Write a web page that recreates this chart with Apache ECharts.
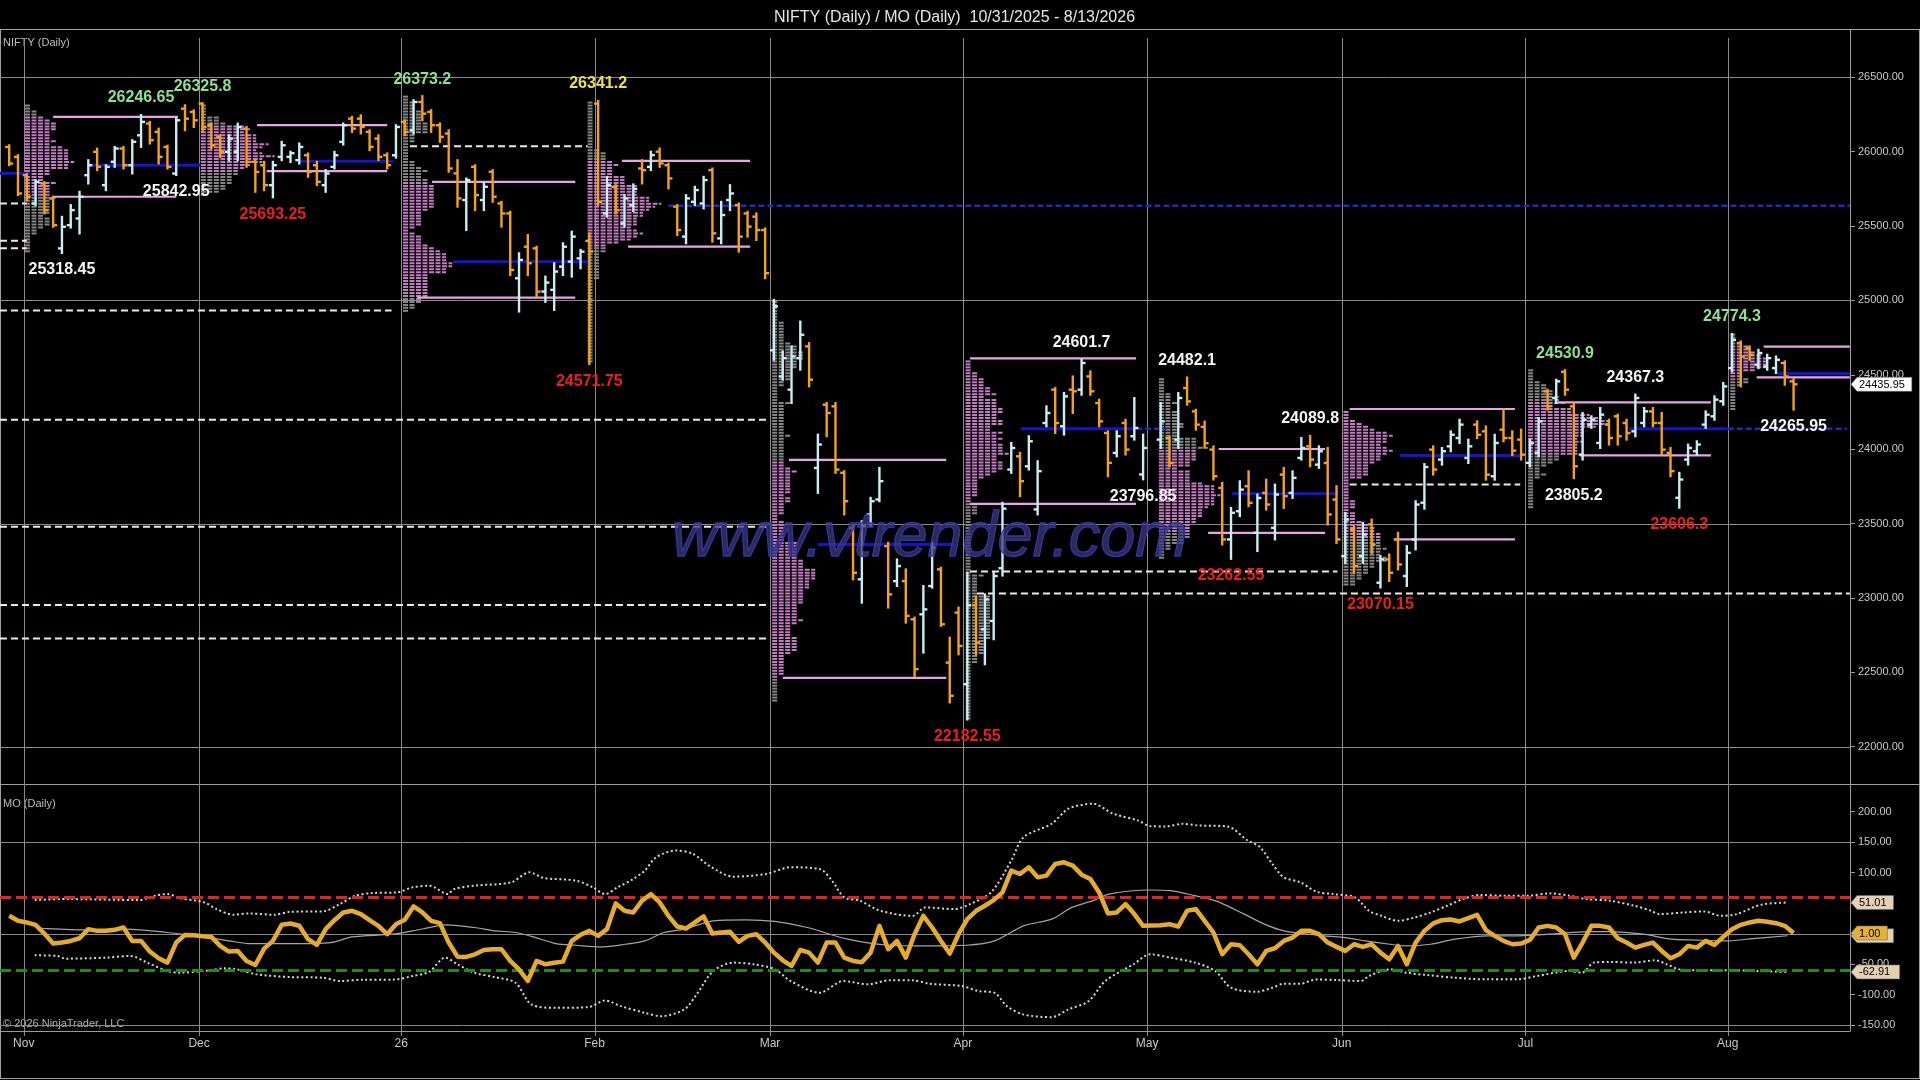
<!DOCTYPE html>
<html>
<head>
<meta charset="utf-8">
<title>NIFTY (Daily) / MO (Daily)</title>
<script src="https://cdn.jsdelivr.net/npm/echarts@6.0.0/dist/echarts.min.js"></script>
<style>
html,body{margin:0;padding:0;background:#000;overflow:hidden;}
#chart{width:1920px;height:1080px;}
</style>
</head>
<body>
<div id="chart"></div>
<script>
// ================= DATA =================
const titleText = 'NIFTY (Daily) / MO (Daily)  10/31/2025 - 8/13/2026';
const monthLabels = ['Nov', 'Dec', '26', 'Feb', 'Mar', 'Apr', 'May', 'Jun', 'Jul', 'Aug'];
const monthGridK = [1.65, 21.6, 44.6, 66.6, 86.55, 108.5, 129.45, 151.6, 172.5, 195.5];
// first bar slot of Oct, Nov, Dec, Jan, Feb, Mar, Apr, May, Jun, Jul, Aug
const monthStartK = [0, 2, 22, 45, 66, 87, 109, 130, 152, 173, 196];

const priceTicks = [22000, 22500, 23000, 23500, 24000, 24500, 25000, 25500, 26000, 26500];
const priceGridLevels = [22000, 23500, 25000, 26500];
const moTicks = [-150, -100, -50, 0, 50, 100, 150, 200];
const moGridLevels = [-150, 0, 150];
const moUpperLevel = 60;
const moLowerLevel = -60;

// daily bars [open, high, low, close]
const barsOct = [[26032,26043,25909,25920],[25965,25977,25708,25719]];
const barsNov = [
[25842,25850,25674,25697],[25652,25808,25641,25797],[25786,25795,25585,25607],[25685,25697,25495,25506],
[25350,25562,25318.45,25495],[25506,25641,25490,25607],[25551,25730,25450,25697],[25842,25943,25786,25909],
[25999,26021,25876,25898],[25775,25909,25741,25898],[25932,26032,25898,26021],[26021,26032,25887,25909],
[25909,26077,25853,26066],[26110,26246.65,26032,26200],[26189,26200,26055,26077],[26133,26155,25920,25965],
[26032,26040,25887,25898],[25853,26222,25842.95,26211],[26289,26312,26144,26222],[26267,26278,26166,26211]];
const barsDec = [
[26323,26325.8,26133,26166],[26178,26190,26021,26043],[26099,26110,25965,25999],[25999,26110,25943,26088],
[25999,26189,25943,26166],[26155,26166,25898,25932],[25932,25943,25730,25864],[25909,25932,25741,25775],
[25775,25932,25693.25,25909],[25965,26066,25943,26043],[25965,26000,25930,25990],[25943,26055,25920,26032],
[25976,25988,25831,25864],[25909,25932,25775,25797],[25775,25876,25730,25853],[25898,25999,25887,25976],
[26066,26189,26048,26178],[26222,26234,26133,26155],[26222,26245,26122,26166],[26133,26144,26010,26032],
[26088,26110,25943,25965],[25976,25988,25887,25909],[25976,26178,25960,26166]];
const barsJan = [
[26200,26211,26111,26133],[26144,26346,26122,26334],[26334,26373.2,26211,26256],[26267,26279,26133,26178],
[26178,26190,26066,26100],[26122,26144,25865,25887],[25854,25943,25630,25686],[25675,25820,25473,25809],
[25898,25909,25607,25708],[25675,25786,25607,25764],[25865,25876,25663,25697],[25652,25663,25496,25585],
[25585,25596,25171,25205],[25149,25317,24925,25272],[25361,25440,25171,25250],[25350,25361,25026,25059],
[25060,25160,24990,25120],[25071,25250,24936,25194],[25227,25384,25171,25361],[25261,25462,25160,25429],
[25283,25340,25216,25328]];
const barsFeb = [
[25400,25451,24571.75,25330],[26323,26341.2,25641,25663],[25585,25831,25563,25775],[25764,25775,25585,25607],
[25518,25708,25496,25686],[25640,25780,25600,25750],[25887,25943,25786,25876],[25898,26000,25876,25977],
[26000,26021,25898,25921],[25909,25920,25753,25820],[25630,25641,25440,25473],[25429,25708,25384,25686],
[25663,25764,25640,25742],[25652,25831,25619,25809],[25876,25887,25395,25451],[25417,25663,25384,25574],
[25675,25775,25607,25719],[25641,25652,25328,25429],[25585,25596,25429,25496],[25563,25585,25406,25473],
[25473,25484,25149,25183]];
const barsMar = [
[24665,25004,24601,24960],[24489,24657,24467,24612],[24400,24691,24310,24623],[24612,24858,24534,24769],
[24691,24713,24422,24467],[23874,24098,23706,24031],[24299,24310,24087,24243],[24288,24310,23841,23863],
[23841,23852,23561,23650],[23471,23483,23125,23169],[23125,23516,22968,23483],[23561,23673,23483,23650],
[23662,23874,23650,23785],[23348,23371,22935,23024],[23113,23259,23080,23214],[23113,23192,22834,22879],
[22856,22868,22476,22521],[22890,23080,22632,22923],[23080,23371,23069,23337],[23192,23203,22812,22823],
[22565,22733,22297,22342],[22901,22935,22621,22677]];
const barsApr = [
[22420,23169,22182.55,22950],[22950,23010,22620,22700],[22789,23024,22554,22990],[22845,23169,22722,23147],
[23200,23640,23150,23600],[23863,24042,23841,24008],[23952,23975,23684,23785],[23885,24087,23863,24053],
[23595,23919,23561,23852],[24176,24288,24154,24243],[24400,24411,24109,24176],[24154,24378,24098,24355],
[24400,24489,24243,24389],[24400,24601.7,24366,24579],[24489,24523,24366,24389],[24310,24333,24154,24187],
[24109,24120,23818,23908],[23975,24120,23952,24087],[24176,24198,23964,23997],[24087,24344,24064,24143],
[23830,24098,23796.85,24008]];
const barsMay = [
null,
[24064,24310,24008,24187],[24075,24085,23885,23907],[24064,24377,24008,24344],[24411,24482.1,24299,24321],
[24254,24265,24131,24165],[24150,24185,24010,24040],[23997,24019,23796,23818],[23740,23773,23359,23393],
[23393,23605,23262.55,23572],[23583,23784,23550,23728],[23751,23851,23617,23639],[23438,23695,23315,23672],
[23706,23795,23594,23628],[23471,23762,23393,23695],[23829,23874,23605,23684],[23706,23851,23672,23807],
[23941,24075,23930,24008],[24019,24089.8,23885,23930],[23896,24019,23874,23986],[23907,24008,23494,23561],
[23661,23751,23370,23393]];
const barsJun = [
[23281,23572,23236,23527],[23460,23482,23169,23214],[23281,23505,23236,23426],[23494,23527,23303,23359],
[23102,23281,23070.15,23259],[23259,23292,23113,23169],[23393,23438,23191,23225],[23147,23348,23080,23303],
[23393,23650,23326,23628],[23640,23900,23600,23880],[23997,24019,23829,23863],[23930,24008,23896,23986],
[24019,24120,23986,24097],[24075,24198,24042,24165],[23941,24064,23907,24019],[24165,24187,24075,24097],
[24120,24153,23795,23829],[23818,24097,23795,24042],[24131,24265,24053,24075],[24075,24120,23960,23990],
[24064,24131,23930,23963]];
const barsJul = [
[23908,24064,23885,24042],[23975,24210,23952,24187],[24389,24400,24266,24288],[24344,24467,24310,24456],
[24520,24530.9,24366,24400],[24288,24310,23805.2,23885],[23964,24243,23930,24198],[24165,24221,24143,24198],
[24042,24277,24008,24232],[24165,24198,24031,24075],[24221,24232,24031,24087],[24176,24198,24064,24109],
[24120,24367.3,24087,24344],[24176,24277,24154,24254],[24254,24277,24154,24176],[24176,24243,23964,23997],
[23975,24008,23818,23852],[23673,23841,23606.3,23796],[23930,24031,23897,24008],[23986,24053,23964,24031],
[24165,24254,24143,24232],[24221,24355,24198,24333],[24322,24445,24299,24422]];
const barsAug = [
[24545,24774.3,24523,24735],[24713,24724,24422,24623],[24679,24691,24601,24635],[24568,24668,24545,24646],
[24556,24635,24534,24612],[24545,24623,24512,24601],[24579,24590,24433,24489],[24456,24470,24265.95,24435.95]];

// MO oscillator, one value per bar slot
const moOct = [29.2, 21];
const moNov = [18.3,14.4,0,-16.4,-14.7,-12,-7.6,7.3,4.5,4.5,6.2,10,-12,-12,-29.5,-40.5,-47.6,-14.7,-2.1,-2.6];
const moDec = [-4.3,-5.4,-20.2,-29.5,-28.4,-44.9,-51.5,-24.6,-12,14.4,16.6,12.8,-9.2,-18.5,7.3,22,34.7,37.4,32,22,12.8,-1,15.5];
const moJan = [22.6,44.6,34.7,21,17.1,-14.7,-37.8,-38.3,-34,-26.8,-25.7,-25.7,-44.9,-58.6,-77.8,-44.9,-50.4,-47.7,-46,-12,-2];
const moFeb = [4.5,-3.7,7.3,49.5,37.4,34.7,54,64.9,51.2,29.2,11.6,8.3,18.3,28.1,0,1.8,2.9,-13.6,-3.7,-1,-14.7];
const moMar = [-31.2,-43.8,-53.1,-26.8,-31.2,-47.6,-14.7,-14.7,-39.4,-44.9,-47.1,-31.2,12.7,-25.7,-12,-39.4,-1,29.2,10,-12,-32.8,-1];
const moApr = [23.7,37.4,45.7,55,67.6,103.3,97.8,108.8,92.3,95.1,114.3,117,111.6,96.7,89.6,67.6,33,34.7,48.4,32,12.7];
const moMay = [null,13.8,15.5,11.6,37.4,40.2,21,1.8,-33.9,-17.5,-19.1,-33.9,-50.4,-28.4,-24,-12,-6.5,4.5,4.5,-1,-14.7,-21.8];
const moJun = [-28.4,-17.5,-21.8,-17.5,-31.2,-42.2,-20.2,-50.4,-14.7,4.5,16.6,22,23.2,19.9,25.4,30.9,5.6,-3.7,-12,-17.5,-16.4];
const moJul = [-10.3,10,12.7,10,-1,-39.4,-14.7,12.7,12.7,10,-7.6,-14.7,-23,-18.5,-14.7,-28.4,-40.5,-33.9,-20.2,-23,-12,-18.5,-5.4];
const moAug = [7.3,14.4,18.3,21,19.4,17.1,12.7,1.0];

// MO average and bands, read as [bar slot, value]
const moAvgPts = [[3,10],[4.1,8.4],[8.7,6.2],[13.4,7.3],[18,1.8],[22.7,-6.5],[25,-12],[27.3,-16.4],[32,-16.4],[36.6,-14.7],[39,-5.4],[43.6,-1],[45.9,4.5],[48.2,11],[49.6,14.4],[52.9,10],[55.2,4.5],[57.6,1.8],[59.9,-6.5],[62.2,-16.4],[64.5,-19.1],[67.3,-21.8],[70.1,-17.5],[72.3,-12],[74.5,1.8],[76.8,7.3],[80.1,21],[83.8,22.6],[87.1,19.9],[90.8,10],[95.4,-9.2],[100.1,-19.1],[104.7,-20.2],[108.9,-19.1],[112.1,-12],[115.4,12.7],[118.6,23.7],[120.9,43],[123.3,54],[125.1,64.9],[129.8,71.5],[132.1,70.4],[134.9,62.2],[137.2,54],[140.5,32],[142.8,15.5],[145,4.5],[149.6,-3.7],[152,-6.5],[154.3,-12],[157.1,-17.5],[158.9,-20.2],[161.7,-17.5],[164.5,-9.2],[168.2,-3.7],[171,-3.7],[175.2,-1],[179.8,3.4],[182.1,3.4],[185.9,-1],[189.1,-9.2],[191.4,-10.3],[195.6,-12],[198.4,-8.1],[202.3,-3.5]];
const moUpperPts = [[2.9,55],[6.4,56.7],[14.8,55],[16.6,62.2],[18,64.9],[19.4,58.3],[22.2,51.2],[23.6,40.2],[25.5,30.9],[27.3,33.1],[30.1,30.9],[32,35.8],[35.7,36.4],[37.6,48.4],[39.4,62.2],[41.3,66.5],[44.1,67.6],[45.9,75.9],[47.8,78.6],[49.9,64.9],[50.6,73.1],[52.9,78.6],[57.1,84.1],[59.2,100.6],[60.8,91.3],[64.5,86.9],[66.4,75.9],[67.8,64.9],[69.2,75.9],[71,89.6],[72.3,103.3],[73.6,125.3],[75.9,136.3],[77.8,130.8],[79.6,111.6],[82.4,93.4],[86.1,97.8],[88.9,108.8],[92.2,106.1],[93.6,86.9],[95,59.4],[96.8,53.9],[99.1,37.4],[102.8,29.2],[104.2,42.9],[107.5,40.2],[109.3,48.4],[111.7,67.6],[114,119.8],[115.4,158.2],[118.6,180.2],[120.5,204.9],[123.3,213.1],[125.6,196.7],[128.4,185.7],[129.8,176.4],[131.6,175.8],[133.5,180.2],[135.3,177.4],[138.6,175.8],[140.9,152.7],[142.3,141.8],[143.7,114.3],[145,92.4],[146.9,84.1],[148.7,68.8],[150.6,64.9],[153.1,59.4],[154.7,37.4],[156.1,29.2],[158,21],[159.9,26.5],[161.7,34.7],[163.6,45.7],[165.4,56.7],[167.3,63.3],[170.1,62.2],[172.9,62.2],[175.2,66],[177.5,62.2],[179.4,56.7],[182.1,53.9],[184.9,45.7],[186.8,37.4],[187.7,31.9],[190.5,34.7],[192.8,36.4],[194.7,29.2],[196.5,31.9],[199.3,47.3],[202.3,51.01]];
const moLowerPts = [[2.9,-35.6],[5.5,-36.7],[6.4,-41.1],[11,-39.4],[13.8,-36.7],[15.7,-47.6],[18,-61.4],[19.4,-64.1],[22.7,-60.3],[24.5,-57],[25.9,-58.6],[28.2,-66.9],[32,-71.3],[35.7,-72.4],[37.6,-77.8],[40.3,-75.6],[43.6,-75.6],[45.9,-69.6],[47.8,-62.5],[49.6,-39.4],[51,-50.4],[52.9,-64.1],[55.2,-71.3],[57.6,-80.6],[59.4,-116.3],[62.2,-121.8],[65.9,-120.7],[67.8,-109.7],[69.6,-119],[72.3,-130],[74.1,-135.5],[76.8,-124.5],[78.2,-99.8],[80.1,-61.4],[82.4,-47.6],[84.7,-50.4],[87.1,-58.6],[88.9,-77.8],[92.2,-97.1],[94.9,-77.8],[97.7,-83.3],[100.1,-76.7],[102.8,-76.7],[104.7,-82.2],[108.4,-86.1],[110.3,-94.3],[112.1,-97.1],[113.5,-119],[115.4,-132.7],[118.6,-137.1],[120.5,-124.5],[122.8,-110.8],[124.7,-77.8],[127.9,-50.4],[129.8,-33.9],[132.1,-39.4],[134.9,-47.6],[137.2,-61.4],[139,-88.8],[141.9,-95.4],[143.7,-88.8],[145,-82.2],[146.9,-82.2],[148.7,-75.1],[151,-76.2],[153.8,-77.8],[154.7,-69.6],[157.1,-58.6],[158.9,-64.1],[161.3,-68],[164.5,-72.4],[168.2,-75.1],[171.5,-75.1],[173.8,-69.6],[177.5,-61.4],[178.9,-64.1],[180.3,-47.6],[182.1,-46.5],[184.9,-47.6],[187.2,-43.8],[188.6,-50.4],[190,-58.6],[192.8,-60.3],[196.1,-60.3],[198.8,-61.4],[202.3,-62.91]];

// monthly value-area highs / lows [fromSlot, price, toSlot]  (Nov..Aug)
const vaHigh = [[5.0,26234,19.2],[28.2,26178,43],[48.1,25797,64.4],[69.7,25938,84.3],[88.7,23928,106.6],[109.3,24610,128.2],[137.6,24001,149.7],[152.5,24270,171.3],[176.2,24314,193.6],[199.6,24690,209.4]];
const vaLow  = [[5.0,25697,19.0],[29.3,25869,43],[46.4,25019,64.4],[70.4,25361,84.3],[88.0,22462,106.6],[109.3,23632,128.2],[136.4,23437,149.7],[157.5,23393,171.3],[178.7,23958,193.6],[198.8,24482,209.4]];
// points of control
const pocSolid = [[-1.05,25854,2.4],[9.2,25909,21.7],[33.1,25936,43.7],[50.5,25260,65.9],[92,23359,107.5],[115.1,24138,128.2],[139.1,23701,151.2],[158.2,23958,171.9],[184.3,24138,195.5],[201.2,24509,209.4]];
const pocNaked = [[75,25636,209.4],[128.2,24138,131.7],[195.5,24138,209.1]];
// untested reference levels (white dashed)
const refLevels = [[-1.05,25652,2.0],[-1.05,25401,2.0],[-1.05,25350,2.0],[-1.05,24932,43.5],[45.6,26037,65.8],[-1.05,24198,86.4],[-1.05,23478,86.4],[-1.05,22952,86.4],[-1.05,22728,86.4],[109.3,23178,151.1],[110.1,23030,209.4],[152.5,23762,171.9]];
// annotated highs / lows: [slot, 'H' | 'L', colour index]
const priceNotes = [[15,'H',0],[22,'H',0],[19,'L',1],[6,'L',1],[30,'L',2],[47,'H',0],[67,'H',3],[66,'L',2],[122,'H',1],[134,'H',1],[129,'L',1],[139,'L',2],[109,'L',2],[148,'H',1],[156,'L',2],[177,'H',0],[185,'H',1],[178,'L',1],[190,'L',2],[196,'H',0],[203,'L',1]];

// ================= BUILD =================
const FONT = '"Liberation Sans", Arial, Helvetica, sans-serif';
const NOTE_COLORS = ['#8fe08f', '#f4f4f4', '#e82020', '#ece050'];
const UP = '#c6eef3', DOWN = '#f4a11c';
const barMonths = [barsOct, barsNov, barsDec, barsJan, barsFeb, barsMar, barsApr, barsMay, barsJun, barsJul, barsAug];
const moMonths = [moOct, moNov, moDec, moJan, moFeb, moMar, moApr, moMay, moJun, moJul, moAug];
const allBars = [];
const moData = [];
barMonths.forEach((arr, m) => arr.forEach((b, i) => { allBars[monthStartK[m] + i] = b; }));
moMonths.forEach((arr, m) => arr.forEach((v, i) => { if (v !== null) moData.push([monthStartK[m] + i, v]); }));
const barData = [];
allBars.forEach((b, k) => { if (b) barData.push([k, b[0], b[1], b[2], b[3]]); });
const lastK = allBars.length - 1;
const lastClose = allBars[lastK][3];

// market profile rows computed from the bars of each month
const STEP = 20, TPO_W = 0.7;
const profileRows = [];
for (let m = 1; m < monthStartK.length; m++) {
  const s = monthStartK[m];
  const e = (m + 1 < monthStartK.length) ? monthStartK[m + 1] : allBars.length;
  const bs = [];
  let firstK = -1;
  for (let k = s; k < e; k++) if (allBars[k]) { bs.push(allBars[k]); if (firstK < 0) firstK = k; }
  const lo = Math.floor(Math.min(...bs.map(b => b[2])) / STEP) * STEP;
  const hi = Math.max(...bs.map(b => b[1]));
  const vah = vaHigh[m - 1][1], val = vaLow[m - 1][1];
  for (let p = lo + STEP / 2; p <= hi; p += STEP) {
    const n = bs.filter(b => b[2] <= p && b[1] >= p).length;
    if (n) profileRows.push([firstK - 0.2, p, n * TPO_W, (p >= val && p <= vah) ? 1 : 0]);
  }
}

const noteData = priceNotes.map(([k, side, ci]) => [k, side === 'H' ? allBars[k][1] : allBars[k][2], side === 'H' ? -1 : 1, ci]);

const X_MIN = -1.047, X_MAX = 209.42;

function segSeries(name, data, style, z) {
  return {
    type: 'custom', name, xAxisIndex: 0, yAxisIndex: 0, z, silent: true,
    data,
    renderItem: (params, api) => {
      const a = api.coord([api.value(0), api.value(1)]);
      const b = api.coord([api.value(2), api.value(1)]);
      return { type: 'line', shape: { x1: a[0], y1: a[1], x2: b[0], y2: b[1] }, style: Object.assign({ fill: null }, style) };
    }
  };
}
function hGrid(xi, yi, levels) {
  return {
    type: 'custom', xAxisIndex: xi, yAxisIndex: yi, z: 0, silent: true,
    data: levels.map(v => [100, v]),
    renderItem: (params, api) => {
      const cs = params.coordSys;
      const y = Math.round(api.coord([100, api.value(1)])[1]) + 0.5;
      return { type: 'line', shape: { x1: cs.x, y1: y, x2: cs.x + cs.width, y2: y }, style: { stroke: '#8a8a8a', lineWidth: 1 } };
    }
  };
}
function vGrid(xi, yi, mid, topPad) {
  return {
    type: 'custom', xAxisIndex: xi, yAxisIndex: yi, z: 0, silent: true,
    data: monthGridK.map(k => [k, mid]),
    renderItem: (params, api) => {
      const cs = params.coordSys;
      const x = Math.round(api.coord([api.value(0), mid])[0]) + 0.5;
      return { type: 'line', shape: { x1: x, y1: cs.y + topPad, x2: x, y2: cs.y + cs.height + 5 }, style: { stroke: '#8a8a8a', lineWidth: 1 } };
    }
  };
}
function tagShape(x0, y, text, bg, fg) {
  const w = text.length * 6.1 + 6, h = 14;
  return {
    type: 'group', children: [
      { type: 'polygon', shape: { points: [[x0, y], [x0 + 6, y - h / 2], [x0 + 6 + w, y - h / 2], [x0 + 6 + w, y + h / 2], [x0 + 6, y + h / 2]] }, style: { fill: bg, stroke: '#6a6a6a', lineWidth: 0.6 } },
      { type: 'text', x: x0 + 8, y: y + 0.5, style: { text, fill: fg, font: '11px ' + FONT, align: 'left', verticalAlign: 'middle' } }
    ]
  };
}

const lowerTags = [
  [lastK, moAvgPts[moAvgPts.length - 1][1], 0],
  [lastK, moUpperPts[moUpperPts.length - 1][1], 0],
  [lastK, moLowerPts[moLowerPts.length - 1][1], 0],
  [lastK, moData[moData.length - 1][1], 1]
];

const option = {
  backgroundColor: '#000000',
  animation: false,
  title: {
    text: titleText, left: 769, top: 5,
    textStyle: { color: '#e6e6e6', fontSize: 16, fontWeight: 'normal', fontFamily: FONT }
  },
  grid: [
    { left: 0, top: 30, width: 1850, height: 754, containLabel: false },
    { left: 0, top: 785, width: 1850, height: 246, containLabel: false }
  ],
  xAxis: [
    { type: 'value', gridIndex: 0, min: X_MIN, max: X_MAX, show: false,
      axisLine: { show: false, onZero: false }, axisTick: { show: false }, axisLabel: { show: false }, splitLine: { show: false } },
    { type: 'value', gridIndex: 1, min: X_MIN, max: X_MAX,
      axisLine: { show: true, onZero: false, lineStyle: { color: '#9a9a9a', width: 1 } },
      axisTick: { show: false },
      splitLine: { show: false },
      axisLabel: {
        show: true, customValues: monthGridK, color: '#c8c8c8', fontSize: 12, fontFamily: FONT, margin: 7,
        formatter: v => {
          let bi = 0, bd = 1e9;
          monthGridK.forEach((g, i) => { const d = Math.abs(g - v); if (d < bd) { bd = d; bi = i; } });
          return monthLabels[bi];
        }
      } }
  ],
  yAxis: [
    { type: 'value', gridIndex: 0, position: 'right', min: 21749, max: 26818,
      axisLine: { show: true, onZero: false, lineStyle: { color: '#9a9a9a', width: 1 } },
      axisTick: { show: true, length: 5, customValues: priceTicks, lineStyle: { color: '#9a9a9a' } },
      axisLabel: { show: true, customValues: priceTicks, color: '#c8c8c8', fontSize: 11, fontFamily: FONT, margin: 8,
        formatter: v => v.toFixed(2) },
      splitLine: { show: false }, minorTick: { show: false } },
    { type: 'value', gridIndex: 1, position: 'right', min: -159.8, max: 243.8,
      axisLine: { show: true, onZero: false, lineStyle: { color: '#9a9a9a', width: 1 } },
      axisTick: { show: true, length: 5, customValues: moTicks, lineStyle: { color: '#9a9a9a' } },
      axisLabel: { show: true, customValues: moTicks, color: '#c8c8c8', fontSize: 11, fontFamily: FONT, margin: 8,
        formatter: v => v.toFixed(2) },
      splitLine: { show: false }, minorTick: { show: false } }
  ],
  graphic: [
    { type: 'line', shape: { x1: 0, y1: 29.5, x2: 1920, y2: 29.5 }, style: { stroke: '#a8a8a8', lineWidth: 1 }, silent: true },
    { type: 'line', shape: { x1: 0, y1: 784.5, x2: 1920, y2: 784.5 }, style: { stroke: '#a0a0a0', lineWidth: 1 }, silent: true },
    { type: 'line', shape: { x1: 0, y1: 1078.5, x2: 1920, y2: 1078.5 }, style: { stroke: '#a0a0a0', lineWidth: 1 }, silent: true },
    { type: 'line', shape: { x1: 0.5, y1: 30, x2: 0.5, y2: 1078 }, style: { stroke: '#a0a0a0', lineWidth: 1 }, silent: true },
    { type: 'line', shape: { x1: 1919.5, y1: 30, x2: 1919.5, y2: 1078 }, style: { stroke: '#a0a0a0', lineWidth: 1 }, silent: true },
    { type: 'text', x: 3, y: 43, style: { text: 'NIFTY (Daily)', fill: '#bdbdbd', font: '11px ' + FONT, verticalAlign: 'middle' }, silent: true },
    { type: 'text', x: 3, y: 804, style: { text: 'MO (Daily)', fill: '#bdbdbd', font: '11px ' + FONT, verticalAlign: 'middle' }, silent: true },
    { type: 'text', x: 3, y: 1024, style: { text: '\u00A9 2026 NinjaTrader, LLC', fill: '#b0b0b0', font: '11px ' + FONT, verticalAlign: 'middle' }, silent: true },
    { type: 'text', x: 672, y: 538, z: 100, silent: true,
      style: { text: 'www.vtrender.com', font: 'italic 63px ' + FONT, fill: 'rgba(58,58,118,0.74)', stroke: 'rgba(52,52,215,0.92)', lineWidth: 1.3, verticalAlign: 'middle', align: 'left' } }
  ],
  series: [
    hGrid(0, 0, priceGridLevels),
    vGrid(0, 0, 24000, 8),
    hGrid(1, 1, moGridLevels),
    vGrid(1, 1, 0, 0),
    // market profiles
    {
      type: 'custom', name: 'profile', xAxisIndex: 0, yAxisIndex: 0, z: 1, silent: true,
      data: profileRows,
      renderItem: (params, api) => {
        const a = api.coord([api.value(0), api.value(1)]);
        const b = api.coord([api.value(0) + api.value(2), api.value(1)]);
        return { type: 'line', shape: { x1: a[0], y1: a[1], x2: b[0], y2: b[1] },
          style: { stroke: api.value(3) ? '#c47cc4' : '#858585', lineWidth: 2, lineDash: [5, 1.5] } };
      }
    },
    segSeries('ref', refLevels, { stroke: '#f2e6e6', lineWidth: 2, lineDash: [7, 4] }, 2),
    segSeries('vah', vaHigh, { stroke: '#e6a6e6', lineWidth: 2.2 }, 3),
    segSeries('val', vaLow, { stroke: '#e6a6e6', lineWidth: 2.2 }, 3),
    segSeries('pocNaked', pocNaked, { stroke: '#2626c4', lineWidth: 2.5, lineDash: [6, 3] }, 3),
    segSeries('poc', pocSolid, { stroke: '#1414c8', lineWidth: 3 }, 3),
    // OHLC bars
    {
      type: 'custom', name: 'NIFTY', xAxisIndex: 0, yAxisIndex: 0, z: 4, silent: true,
      data: barData,
      renderItem: (params, api) => {
        const k = api.value(0), o = api.value(1), h = api.value(2), l = api.value(3), c = api.value(4);
        const pH = api.coord([k, h]), pL = api.coord([k, l]), pO = api.coord([k, o]), pC = api.coord([k, c]);
        const col = c >= o ? UP : DOWN;
        const st = { stroke: col, lineWidth: 2.4 };
        return { type: 'group', children: [
          { type: 'line', shape: { x1: pH[0], y1: pH[1] - 1, x2: pL[0], y2: pL[1] + 1 }, style: st },
          { type: 'line', shape: { x1: pO[0] - 4, y1: pO[1], x2: pO[0], y2: pO[1] }, style: st },
          { type: 'line', shape: { x1: pC[0], y1: pC[1], x2: pC[0] + 4, y2: pC[1] }, style: st }
        ] };
      }
    },
    // high / low annotations
    {
      type: 'custom', name: 'notes', xAxisIndex: 0, yAxisIndex: 0, z: 6, silent: true,
      data: noteData,
      renderItem: (params, api) => {
        const p = api.value(1);
        const pt = api.coord([api.value(0), p]);
        return { type: 'text', x: pt[0], y: pt[1] + api.value(2) * 17,
          style: { text: String(p), fill: NOTE_COLORS[api.value(3)], font: 'bold 16px ' + FONT, align: 'center', verticalAlign: 'middle' } };
      }
    },
    // last price tag
    {
      type: 'custom', name: 'lastTag', xAxisIndex: 0, yAxisIndex: 0, z: 20, silent: true,
      data: [[lastK, lastClose]],
      renderItem: (params, api) => {
        const cs = params.coordSys;
        const y = api.coord([api.value(0), api.value(1)])[1];
        return tagShape(cs.x + cs.width + 1, y, api.value(1).toFixed(2), '#ffffff', '#000000');
      }
    },
    // MO panel
    {
      type: 'line', name: 'MO upper', xAxisIndex: 1, yAxisIndex: 1, data: moUpperPts, symbol: 'none', smooth: 0.3, z: 2, silent: true,
      lineStyle: { color: '#d6d6d6', width: 2, type: [2, 2.6] }
    },
    {
      type: 'line', name: 'MO lower', xAxisIndex: 1, yAxisIndex: 1, data: moLowerPts, symbol: 'none', smooth: 0.3, z: 2, silent: true,
      lineStyle: { color: '#d6d6d6', width: 2, type: [2, 2.6] }
    },
    {
      type: 'line', name: 'MO avg', xAxisIndex: 1, yAxisIndex: 1, data: moAvgPts, symbol: 'none', smooth: 0.3, z: 3, silent: true,
      lineStyle: { color: '#a4a4a4', width: 1.2 }
    },
    {
      type: 'line', name: 'MO', xAxisIndex: 1, yAxisIndex: 1, data: moData, symbol: 'none', z: 5, silent: true,
      lineStyle: { color: '#e4ab2c', width: 4.5, join: 'round' },
      markLine: {
        silent: true, symbol: 'none', label: { show: false }, z: 4,
        data: [
          { yAxis: moUpperLevel, lineStyle: { color: '#e52222', width: 3, type: [11, 5] } },
          { yAxis: moLowerLevel, lineStyle: { color: '#1c8c1c', width: 3, type: [11, 5] } }
        ]
      }
    },
    {
      type: 'custom', name: 'moTags', xAxisIndex: 1, yAxisIndex: 1, z: 20, silent: true,
      data: lowerTags,
      renderItem: (params, api) => {
        const cs = params.coordSys;
        const v = api.value(1);
        const y = api.coord([api.value(0), v])[1];
        const hi = api.value(2) === 1;
        return tagShape(cs.x + cs.width + 1, y, v.toFixed(2), hi ? '#e8b030' : '#e4d0b2', '#000000');
      }
    }
  ]
};

const chart = echarts.init(document.getElementById('chart'), null, { renderer: 'canvas', width: 1920, height: 1080 });
chart.setOption(option);
</script>
</body>
</html>
